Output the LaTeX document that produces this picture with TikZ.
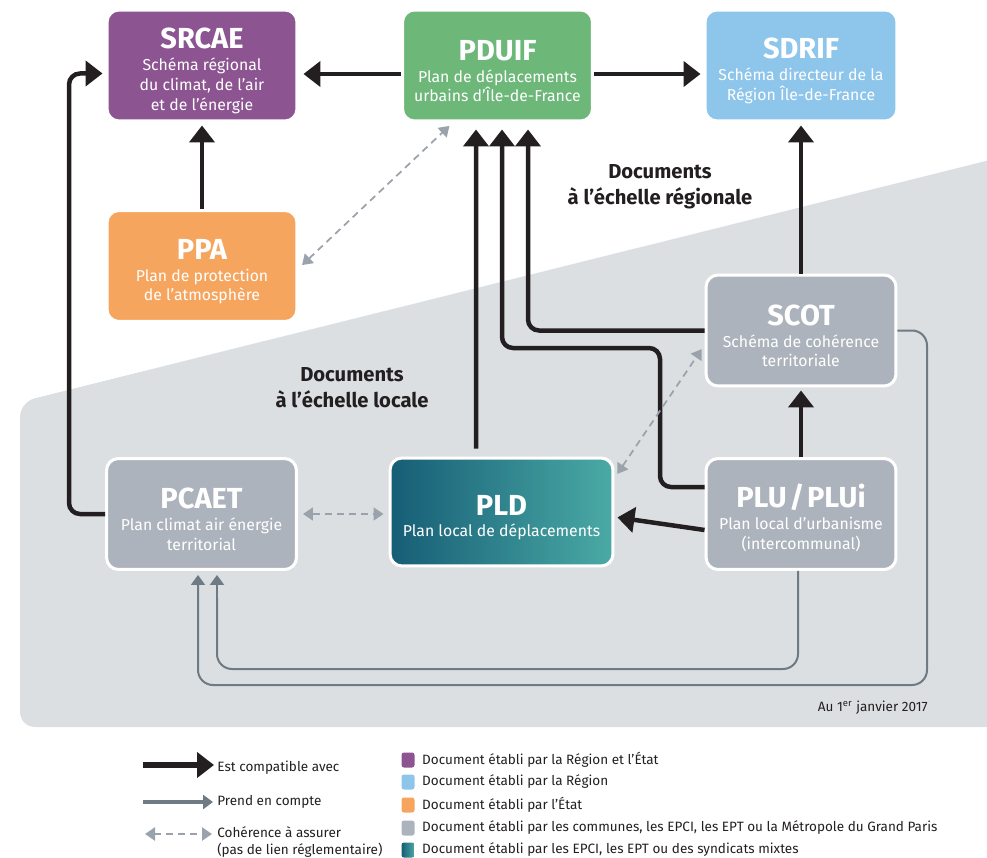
\documentclass[tikz,border=0pt]{standalone}
\usepackage{fontspec}
\setmainfont{Fira Sans}
\usepackage{xcolor}
\usetikzlibrary{arrows.meta,positioning,calc}

\definecolor{violetreg}{HTML}{8C5591}
\definecolor{vertreg}{HTML}{6DB779}
\definecolor{bleureg}{HTML}{8DC5EB}
\definecolor{orangeetat}{HTML}{F6A55E}
\definecolor{griscom}{HTML}{ADB3BC}
\definecolor{zone}{HTML}{DCDFE2}
\definecolor{noir}{HTML}{231F20}
\definecolor{trait}{HTML}{6E7A84}
\definecolor{tirets}{HTML}{9AA2AC}
\definecolor{pldA}{HTML}{165D76}
\definecolor{pldB}{HTML}{4AAAA5}

\newcommand{\titre}[1]{{\fontsize{16.5}{18}\selectfont\bfseries\rule{0pt}{18pt}#1}}

\begin{document}
\begin{tikzpicture}[x=0.02cm, y=-0.02cm]
  \tikzstyle{doc}=[rectangle, rounded corners=0.24cm, draw=white, line width=0.06cm, text=white, align=center, inner sep=0pt, minimum width=3.8cm, minimum height=2.22cm, font=\fontsize{9}{11.3}\selectfont]
  \tikzstyle{compat}=[draw=noir, line width=0.09cm, rounded corners=0.22cm, shorten >=0.06cm, -{Triangle[length=0.34cm, width=0.5cm]}]
  \tikzstyle{prend}=[draw=trait, line width=0.04cm, rounded corners=0.3cm, shorten >=0.08cm, -{Triangle[length=0.2cm, width=0.28cm]}]
  \tikzstyle{coher}=[draw=tirets, line width=0.035cm, dash pattern=on 0.14cm off 0.1cm, shorten <=0.1cm, shorten >=0.1cm, {Triangle[length=0.2cm, width=0.26cm]}-{Triangle[length=0.2cm, width=0.26cm]}]
  \tikzstyle{echelle}=[text=noir, align=center, font=\fontsize{11.5}{14.7}\selectfont\bfseries]
  \tikzstyle{leg}=[text=noir, inner sep=0pt, align=left, font=\fontsize{7.7}{10}\selectfont]
  \tikzstyle{carre}=[rectangle, rounded corners=0.05cm, minimum width=0.26cm, minimum height=0.3cm, inner sep=0pt]

  \useasboundingbox (0,0) rectangle (987,858);

  % Zone des documents locaux
  \fill[zone, rounded corners=0.3cm] (1010,155) -- (20,402) -- (20,727) -- (1010,727) -- cycle;

  % Documents
  \node[doc, fill=violetreg] (srcae) at (202,65.5) {\titre{SRCAE}\\[1pt] Schéma régional\\ du climat, de l’air\\ et de l’énergie};
  \node[doc, fill=vertreg] (pduif) at (497.5,65.5) {\titre{PDUIF}\\[1pt] Plan de déplacements\\ urbains d’Île-de-France};
  \node[doc, fill=bleureg, minimum width=3.84cm] (sdrif) at (801,65.5) {\titre{SDRIF}\\[1pt] Schéma directeur de la\\ Région Île-de-France};
  \node[doc, fill=orangeetat] (ppa) at (202,266) {\titre{PPA}\\[1pt] Plan de protection\\ de l’atmosphère};
  \node[doc, fill=griscom] (scot) at (801,330.5) {\titre{SCOT}\\[1pt] Schéma de cohérence\\ territoriale};
  \node[doc, fill=griscom] (pcaet) at (201.5,514) {\titre{PCAET}\\[1pt] Plan climat air énergie\\ territorial};
  \node[doc, left color=pldA, right color=pldB, minimum width=4.46cm, minimum height=2.16cm] (pld) at (501.5,512) {\titre{PLD}\\[1pt] Plan local de déplacements};
  \node[doc, fill=griscom] (plu) at (801,514) {\titre{PLU\kern1.5pt/\kern1.5pt PLUi}\\[1pt] Plan local d’urbanisme\\ (intercommunal)};

  \node[echelle] (regionale) at (660,187) {Documents\\ à l’échelle régionale};
  \node[echelle] (locale) at (352,388) {Documents\\ à l’échelle locale};
  \node[leg, anchor=east] (date) at (928,708) {Au 1\textsuperscript{er} janvier 2017};

  % Est compatible avec
  \draw[compat, shorten >=0.1cm] ([yshift=-0.17cm]pduif.west) -- ([yshift=-0.17cm]srcae.east);
  \draw[compat] ([yshift=-0.17cm]pduif.east) -- ([yshift=-0.17cm]sdrif.west);
  \draw[compat] (ppa.north) -- (srcae.south);
  \draw[compat] (scot.north) -- (sdrif.south);
  \draw[compat] (plu.north) -- (scot.south);
  \draw[compat] ([yshift=-0.32cm]plu.west) -- ([yshift=-0.1cm]pld.east);
  \draw[compat] (pcaet.west) -- ++(-36,0) |- ([yshift=-0.16cm]srcae.west);
  \draw[compat, shorten >=0.14cm] ([xshift=-0.51cm,yshift=0.16cm]pld.north) -- ([xshift=-0.43cm]pduif.south);
  \draw[compat, shorten >=0.14cm] ([yshift=0.54cm]plu.west) -- (660,487) -- (660,348) -- (502,348) -- ([xshift=0.09cm]pduif.south);
  \draw[compat, shorten >=0.14cm] (scot.west) -| ([xshift=0.61cm]pduif.south);

  % Prend en compte
  \draw[prend] (scot.east) -- (927,330.5) -- (927,685) -- (198,685) -- ([xshift=-0.07cm]pcaet.south);
  \draw[prend] ([xshift=-0.06cm]plu.south) -- (798,669) -- (217,669) -- ([xshift=0.31cm]pcaet.south);

  % Coherence
  \draw[coher] ([yshift=-0.05cm]ppa.east) -- ([xshift=-0.89cm]pduif.south);
  \draw[coher] (pcaet.east) -- (pcaet.east -| pld.west);
  \draw[coher] ([yshift=0.68cm]pld.east) -- ([yshift=-0.29cm]scot.west);

  % Legende
  \node[leg, anchor=west] (lcompat) at (217,768) {Est compatible avec};
  \draw[compat, line width=0.12cm] ([xshift=-1.48cm,yshift=0.06cm]lcompat.west) -- ([yshift=0.06cm]lcompat.west);
  \node[leg, anchor=west] (lprend) at (217,802) {Prend en compte};
  \draw[prend, line width=0.08cm] ([xshift=-1.48cm]lprend.west) -- (lprend.west);
  \node[leg, anchor=west] (lcoher) at (217,842) {Cohérence à assurer\\ (pas de lien réglementaire)};
  \draw[coher, line width=0.05cm] ([xshift=-1.54cm,yshift=0.16cm]lcoher.west) -- ([yshift=0.16cm]lcoher.west);

  \node[carre, fill=violetreg] (c1) at (408,760) {};
  \node[leg, right=0.14cm of c1] (l1) {Document établi par la Région et l’État};
  \node[carre, fill=bleureg] (c2) at (408,782) {};
  \node[leg, right=0.14cm of c2] (l2) {Document établi par la Région};
  \node[carre, fill=orangeetat] (c3) at (408,805) {};
  \node[leg, right=0.14cm of c3] (l3) {Document établi par l’État};
  \node[carre, fill=griscom] (c4) at (408,828) {};
  \node[leg, right=0.14cm of c4] (l4) {Document établi par les communes, les EPCI, les EPT ou la Métropole du Grand Paris};
  \node[carre, left color=pldA, right color=pldB] (c5) at (408,850) {};
  \node[leg, right=0.14cm of c5] (l5) {Document établi par les EPCI, les EPT ou des syndicats mixtes};
\end{tikzpicture}
\end{document}
